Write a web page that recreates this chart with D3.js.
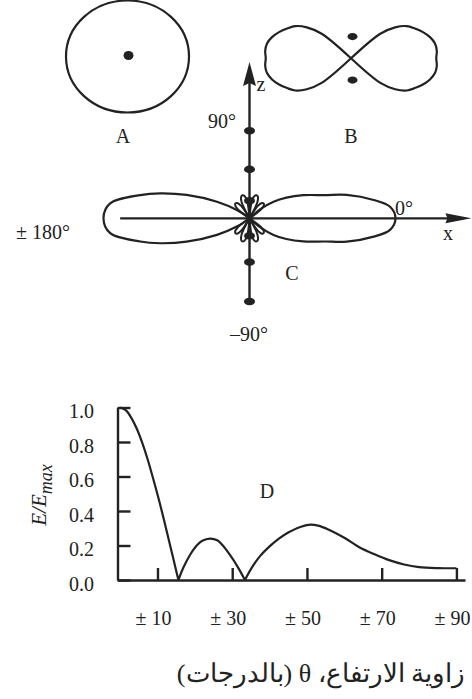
<!DOCTYPE html>
<html>
<head>
<meta charset="utf-8">
<script src="https://cdn.jsdelivr.net/npm/d3@7"></script>
<style>
  html, body { margin: 0; padding: 0; background: #fff; }
  svg { display: block; }
  text { font-family: "Liberation Serif", "Times New Roman", serif; fill: #222; }
</style>
</head>
<body>
<svg id="chart" width="472" height="699"></svg>
<script>
// ---- D: relative field strength against elevation angle ----
const elevationDeg = [0, 1.5, 3, 4.5, 6, 7.5, 9, 10.5, 12, 13.5, 14.5, 15.6,
  17, 18.7, 20.5, 22, 24, 26, 27.5, 29.4, 31.5, 33.4,
  35.5, 37.5, 40, 42.5, 45, 47.5, 50.5, 53, 56, 60, 64, 68, 72, 76, 80, 85, 90];
const fieldRatio = [1.0, 0.985, 0.94, 0.875, 0.79, 0.69, 0.575, 0.455, 0.325, 0.19, 0.10, 0.0,
  0.075, 0.145, 0.2, 0.227, 0.24, 0.23, 0.2, 0.145, 0.075, 0.0,
  0.08, 0.14, 0.195, 0.24, 0.275, 0.302, 0.32, 0.315, 0.29, 0.245, 0.19, 0.15, 0.115, 0.09, 0.075, 0.069, 0.068];
const yTicks = [0, 0.2, 0.4, 0.6, 0.8, 1.0];
const xTicks = [10, 30, 50, 70, 90];
const xTickLabels = ["± 10", "± 30", "± 50", "± 70", "± 90"];

// ---- A: horizontal pattern of the vertical dipole (omnidirectional) ----
const patternARadius = 1;

// ---- B: vertical pattern, one quadrant (angle from horizontal, degrees) ----
const lobeBAngles = [0, 5, 10, 15, 20, 25, 30, 35, 40, 45];
const lobeBRadius = [0.98, 0.99, 0.98, 0.94, 0.88, 0.81, 0.74, 0.62, 0.44, 0];
const dipoleBEnds = [0.25, -0.25];

// ---- C: array pattern in the x-z plane, upper half ----
const rightLobeAngles = [0, 4.7, 8.4, 13.5, 17.1, 23.3, 29.3, 34.7, 40, 45];
const rightLobeRadius = [1.0, 0.966, 0.86, 0.685, 0.54, 0.40, 0.29, 0.20, 0.1, 0];
const leftLobeAngles = [140, 146.6, 153, 159.6, 164.4, 168, 173.9, 180];
const leftLobeRadius = [0, 0.1, 0.25, 0.46, 0.635, 0.765, 0.96, 1.0];
const petalAngles = [47, 73, 107, 133];
const petalRadius = [0.14, 0.165, 0.165, 0.14];
const petalOffsets = [-1, -0.6, -0.25, 0, 0.25, 0.6, 1];
const petalProfile = [0, 0.75, 0.97, 1, 0.97, 0.75, 0];
const elementZ = [0.60, 0.335, 0.12, -0.12, -0.30, -0.57];

const ink = "#222";
const svg = d3.select("#chart");
const rad = d => d * Math.PI / 180;
// elevation angle (ccw from +x) -> d3 radial angle (cw from 12 o'clock)
const toRadial = deg => Math.PI / 2 - rad(deg);

function text(x, y, str, size, anchor) {
  return svg.append("text").attr("x", x).attr("y", y)
    .attr("font-size", size || 20).attr("text-anchor", anchor || "middle").text(str);
}

// ================= A =================
const cA = { x: 127.5, y: 56.5 };
const rAx = d3.scaleLinear([0, 1], [0, 61.5]);
const rAy = d3.scaleLinear([0, 1], [0, 56]);
svg.append("ellipse").attr("cx", cA.x).attr("cy", cA.y)
  .attr("rx", rAx(patternARadius)).attr("ry", rAy(patternARadius))
  .attr("fill", "none").attr("stroke", ink).attr("stroke-width", 2.2);
svg.append("ellipse").attr("cx", cA.x + 1).attr("cy", cA.y - 1)
  .attr("rx", 5).attr("ry", 4.5).attr("fill", ink);
text(123, 142.5, "A", 20);

// ================= B =================
const cB = { x: 351, y: 58.3 };
const rB = d3.scaleLinear([0, 1], [0, 87]);
const gB = svg.append("g").attr("transform", `translate(${cB.x},${cB.y})`);
const quadB = lobeBAngles.map((a, i) => ({ a, r: lobeBRadius[i] }));
function lobeFrom(quad, centre) {
  // full lobe: one quadrant mirrored about the lobe axis
  const lower = quad.slice().reverse().map(p => ({ a: centre - p.a, r: p.r }));
  const upper = quad.slice(1).map(p => ({ a: centre + p.a, r: p.r }));
  return lower.concat(upper);
}
const radialB = d3.lineRadial()
  .angle(p => toRadial(p.a)).radius(p => rB(p.r))
  .curve(d3.curveCatmullRom.alpha(0.5));
[0, 180].forEach(c => {
  gB.append("path").attr("d", radialB(lobeFrom(quadB, c)))
    .attr("fill", "none").attr("stroke", ink).attr("stroke-width", 2.2)
    .attr("stroke-linejoin", "round");
});
dipoleBEnds.forEach(z => {
  gB.append("ellipse").attr("cx", 1.5).attr("cy", -rB(z))
    .attr("rx", 5).attr("ry", 3.6).attr("fill", ink);
});
text(351, 143.3, "B", 20);

// ================= C =================
const cC = { x: 249.5, y: 218.3 };
const rC = d3.scaleLinear([0, 1], [0, 146]);
const gC = svg.append("g").attr("transform", `translate(${cC.x},${cC.y})`);
const radialC = d3.lineRadial()
  .angle(p => toRadial(p.a)).radius(p => rC(p.r))
  .curve(d3.curveCatmullRom.alpha(0.5));

// main lobes: upper half mirrored into the lower half
function mainLobe(angles, radii, centre) {
  const up = angles.map((a, i) => ({ a, r: radii[i] }));
  const down = up.map(p => ({ a: 2 * centre - p.a, r: p.r }));
  return up.concat(down)
    .filter((p, i, arr) => arr.findIndex(q => Math.abs(q.a - p.a) < 1e-6) === i)
    .sort((p, q) => p.a - q.a);
}
const rightLobe = mainLobe(rightLobeAngles, rightLobeRadius, 0);
const leftLobe = mainLobe(leftLobeAngles, leftLobeRadius, 180);
[rightLobe, leftLobe].forEach(l => {
  gC.append("path").attr("d", radialC(l))
    .attr("fill", "none").attr("stroke", ink).attr("stroke-width", 2.2)
    .attr("stroke-linejoin", "round");
});

// small side petals above and below the axis
const petalHalfWidth = 15;
[1, -1].forEach(side => {
  petalAngles.forEach((pa, i) => {
    const pts = petalOffsets.map((o, k) => ({
      a: side * (pa + o * petalHalfWidth),
      r: petalRadius[i] * petalProfile[k]
    }));
    gC.append("path").attr("d", radialC(pts))
      .attr("fill", "none").attr("stroke", ink).attr("stroke-width", 2)
      .attr("stroke-linejoin", "round");
  });
});

// x axis with arrow
const xStart = -rC(0.886), xEnd = rC(1.52);
gC.append("line").attr("x1", xStart).attr("y1", 0).attr("x2", xEnd - 20).attr("y2", 0)
  .attr("stroke", ink).attr("stroke-width", 2.2);
gC.append("path")
  .attr("d", `M${xEnd},0 L${xEnd - 26},-5 L${xEnd - 24},0 L${xEnd - 26},5 Z`)
  .attr("fill", ink);
// z axis with arrow
const zTop = -rC(1.07), zBottom = rC(0.57);
gC.append("line").attr("x1", 0).attr("y1", zBottom).attr("x2", 0).attr("y2", zTop + 18)
  .attr("stroke", ink).attr("stroke-width", 2.4);
gC.append("path")
  .attr("d", `M0,${zTop} L-6.5,${zTop + 24} L0,${zTop + 21} L6.5,${zTop + 24} Z`)
  .attr("fill", ink);
// antenna elements along z
elementZ.forEach(z => {
  gC.append("ellipse").attr("cx", 0).attr("cy", -rC(z))
    .attr("rx", 5.5).attr("ry", 3.8).attr("fill", ink);
});

text(261, 91, "z", 20, "middle");
text(448, 240, "x", 20, "middle");
text(222, 128, "90°", 20, "middle");
text(404, 215, "0°", 20, "middle");
text(43, 238.5, "± 180°", 20, "middle");
text(292, 280, "C", 20, "middle");
text(249, 341, "–90°", 20, "middle");

// ================= D =================
const x = d3.scaleLinear([-0.7, 92.3], [117.5, 465]);
const y = d3.scaleLinear([0, 1], [580, 407.5]);

const yAxis = d3.axisLeft(y).tickValues(yTicks).tickFormat(d3.format(".1f"))
  .tickSizeInner(-13).tickSizeOuter(0).tickPadding(23.5);
const xAxis = d3.axisBottom(x).tickValues(xTicks).tickFormat((d, i) => xTickLabels[i])
  .tickSizeInner(-12).tickSizeOuter(0).tickPadding(31);

const gx = svg.append("g").attr("transform", `translate(0,${y(0)})`).call(xAxis);
const gy = svg.append("g").attr("transform", `translate(${x(-0.7)},0)`).call(yAxis);
[gx, gy].forEach(g => {
  g.selectAll("path, line").attr("stroke", ink).attr("stroke-width", 2.4);
  g.selectAll("text").attr("fill", ink).attr("font-size", 20)
    .attr("font-family", "\"Liberation Serif\", serif");
});
gy.selectAll(".tick text").attr("dy", "0.52em");
gx.selectAll(".tick text").attr("dx", -4.5);

// the curve, split at its nulls so each null stays a sharp point
const pts = elevationDeg.map((t, i) => ({ t, v: fieldRatio[i] }));
const segments = [];
let cur = [];
pts.forEach((p, i) => {
  cur.push(p);
  if (p.v === 0 && i > 0 && i < pts.length - 1) { segments.push(cur); cur = [p]; }
});
segments.push(cur);
const lineD = d3.line().x(p => x(p.t)).y(p => y(p.v)).curve(d3.curveCatmullRom.alpha(0.5));
svg.append("path").attr("d", segments.map(s => lineD(s)).join(""))
  .attr("fill", "none").attr("stroke", ink).attr("stroke-width", 2.2)
  .attr("stroke-linejoin", "round");

text(267, 498, "D", 20);

// y axis title E/Emax
const yt = svg.append("text")
  .attr("transform", "translate(46,495) rotate(-90)")
  .attr("text-anchor", "middle").attr("font-size", 21).attr("font-style", "italic");
yt.append("tspan").text("E/E");
yt.append("tspan").attr("font-size", 18).attr("dy", 6).text("max");

// x axis title (right-to-left)
svg.append("text").attr("x", 321).attr("y", 682)
  .attr("text-anchor", "middle").attr("font-size", 26)
  .attr("direction", "rtl").style("unicode-bidi", "embed")
  .attr("font-family", "\"Liberation Serif\", \"DejaVu Sans\", serif")
  .text("زاوية الارتفاع، θ (بالدرجات)");
</script>
</body>
</html>
